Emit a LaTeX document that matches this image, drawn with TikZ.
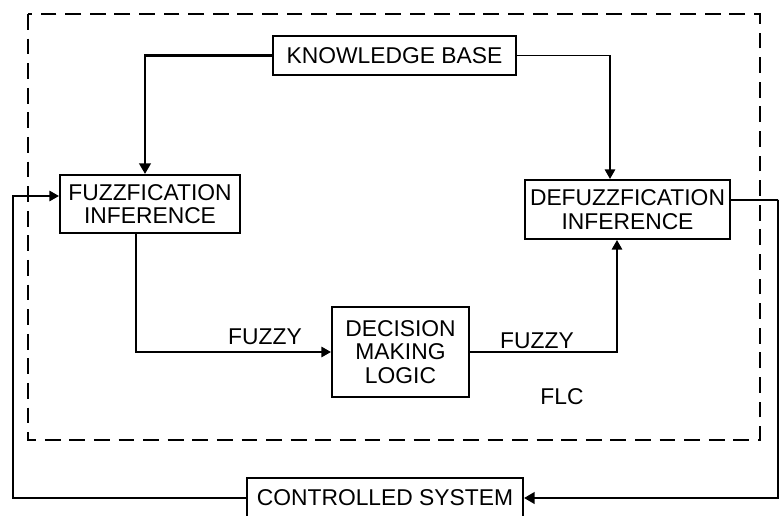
\documentclass[tikz,border=0pt]{standalone}
\usepackage{fontspec}
\setsansfont{Liberation Sans}
\usetikzlibrary{arrows.meta, calc}
\tikzset{
	block/.style={rectangle, draw=black, line width=1.2pt, align=center, inner sep=2pt, font=\sffamily\fontsize{13}{13.4}\selectfont},
	tag/.style={inner sep=1pt, font=\sffamily\fontsize{13}{13.4}\selectfont},
	flcbox/.style={draw=black, line width=1.5pt, dash pattern=on 9pt off 5pt},
	arrow/.style={-{Triangle[length=5.5pt, width=6pt]}, line width=0.9pt},
	thickarrow/.style={-{Triangle[length=6pt, width=6.5pt]}, line width=1.4pt},
	wire/.style={line width=0.9pt},
}

\begin{document}
\begin{tikzpicture}[x=0.02cm, y=-0.02cm]
		\useasboundingbox (0,0) rectangle (779,515);
		\draw[flcbox] (28,14) rectangle (760,440);
		\node[block, minimum width=4.86cm, minimum height=0.78cm] (kbase) at (394.5,55.5) {KNOWLEDGE BASE};
		\node[block, minimum width=3.6cm, minimum height=1.16cm] (fuzz) at (150,204) {FUZZFICATION\\INFERENCE};
		\node[block, minimum width=4.1cm, minimum height=1.18cm] (defuzz) at (627.5,209.5) {DEFUZZFICATION\\INFERENCE};
		\node[block, minimum width=2.74cm, minimum height=1.8cm] (logic) at (400.5,352) {DECISION\\MAKING\\LOGIC};
		\node[block, minimum width=5.52cm, minimum height=0.8cm] (plant) at (385,498) {CONTROLLED SYSTEM};
		\node[tag] (fuzzyin) at (265,337) {FUZZY};
		\node[tag] (fuzzyout) at (537,341) {FUZZY};
		\node[tag] (flc) at (562,397) {FLC};
		\coordinate (outR) at (778,200);
		\coordinate (inL) at (13,498);
		\draw[thickarrow] (kbase.west) -| ([xshift=-0.1cm]fuzz.north);
		\draw[arrow] (kbase.east) -| ([xshift=-0.35cm]defuzz.north);
		\draw[arrow] ([xshift=-0.28cm]fuzz.south) |- (logic.west);
		\draw[arrow] (logic.east) -| ([xshift=-0.21cm]defuzz.south);
		\draw[wire] ([yshift=0.19cm]defuzz.east) -- (outR);
		\draw[thickarrow] (outR) |- (plant.east);
		\draw[arrow] (plant.west) -- (inL) |- ([yshift=0.16cm]fuzz.west);
	\end{tikzpicture}
\end{document}
